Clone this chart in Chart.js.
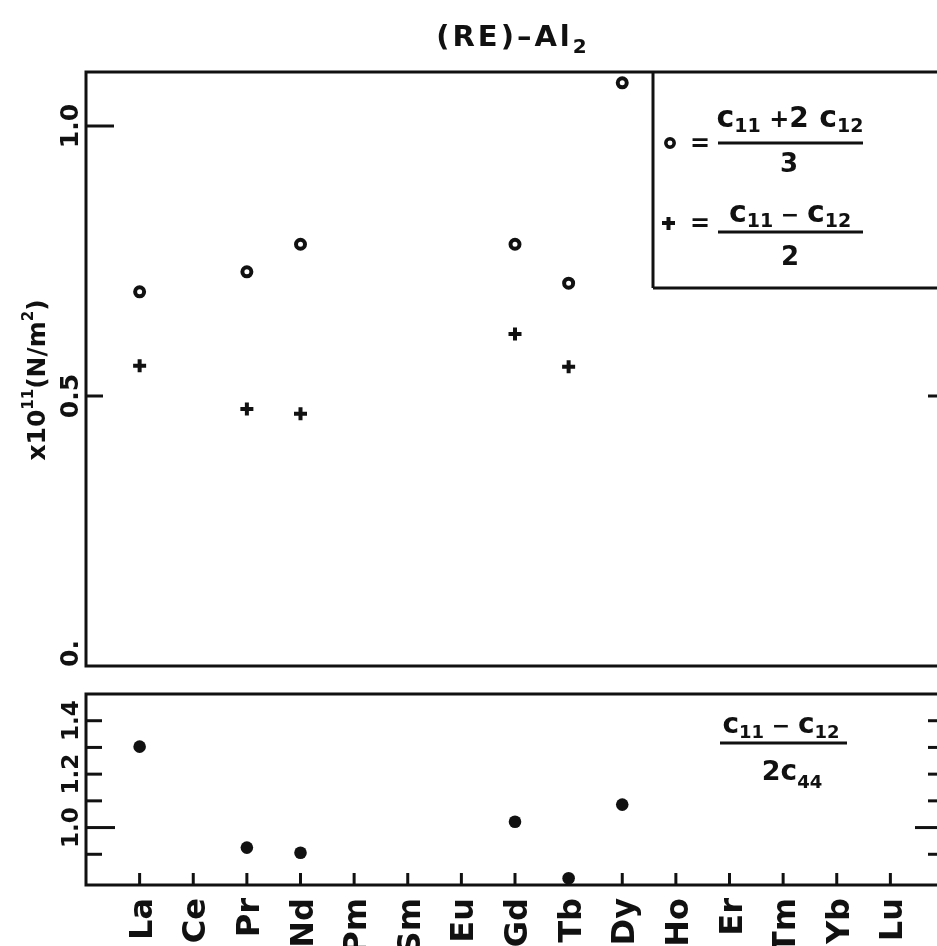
<!DOCTYPE html>
<html>
<head>
<meta charset="utf-8">
<script src="https://cdn.jsdelivr.net/npm/chart.js@4.4.0/dist/chart.umd.min.js"></script>
<style>
  html, body { margin: 0; padding: 0; background: #fff; overflow: hidden; }
  #wrap { position: relative; width: 937px; height: 946px; overflow: hidden; }
  canvas { position: absolute; left: 0; top: 0; }
</style>
</head>
<body>
<div id="wrap">
  <canvas id="mainChart" width="960" height="946"></canvas>
  <canvas id="ratioChart" width="960" height="946"></canvas>
</div>
<script>
// rare earth series, x axis runs from index -1 to 15
const elements = ['La', 'Ce', 'Pr', 'Nd', 'Pm', 'Sm', 'Eu', 'Gd', 'Tb', 'Dy', 'Ho', 'Er', 'Tm', 'Yb', 'Lu'];

// (c11 + 2c12)/3, x10^11 N/m^2  (open circles)
const bulkValues = [0.693, null, 0.730, 0.781, null, null, null, 0.781, 0.709, 1.080, null, null, null, null, null];
// (c11 - c12)/2  (plus signs)
const shearValues = [0.556, null, 0.476, 0.467, null, null, null, 0.615, 0.554, null, null, null, null, null, null];
// (c11 - c12)/(2c44)  (filled dots, lower panel)
const ratioValues = [1.303, null, 0.925, 0.906, null, null, null, 1.022, 0.810, 1.086, null, null, null, null, null];

// tick marks and labels
const mainTicks = [0, 0.5, 1.0];
const mainTickLabels = ['0.', '0.5', '1.0'];
const ratioTicks = [0.9, 1.0, 1.1, 1.2, 1.3, 1.4];
const ratioLabelValues = [1.0, 1.2, 1.4];
const ratioTickLabels = ['1.0', '1.2', '1.4'];

const INK = '#111';
const FONT = '"DejaVu Sans", sans-serif';

function points(values) {
    return values.map((v, i) => ({x: i, y: v})).filter(p => p.y !== null);
}

// draw a run of text pieces [text, size, dy], dy shifts the baseline (for subscripts)
function drawRuns(ctx, runs, x, y, align, weight) {
    const w8 = weight || 'bold';
    let w = 0;
    runs.forEach(r => {
        ctx.font = w8 + ' ' + r[1] + 'px ' + FONT;
        w += ctx.measureText(r[0]).width;
    });
    let cx = align === 'center' ? x - w / 2 : (align === 'right' ? x - w : x);
    ctx.textAlign = 'left';
    runs.forEach(r => {
        ctx.font = w8 + ' ' + r[1] + 'px ' + FONT;
        ctx.fillText(r[0], cx, y + (r[2] || 0));
        cx += ctx.measureText(r[0]).width;
    });
}

function hLine(ctx, x1, x2, y) {
    ctx.beginPath();
    ctx.moveTo(x1, y);
    ctx.lineTo(x2, y);
    ctx.stroke();
}

function vLine(ctx, x, y1, y2) {
    ctx.beginPath();
    ctx.moveTo(x, y1);
    ctx.lineTo(x, y2);
    ctx.stroke();
}

// rotated (reading upward) label
function upText(ctx, runs, x, y, align, weight) {
    ctx.save();
    ctx.translate(x, y);
    ctx.rotate(-Math.PI / 2);
    drawRuns(ctx, runs, 0, 0, align, weight);
    ctx.restore();
}

const mainFrame = {
    id: 'mainFrame',
    beforeDatasetsDraw(chart) {
        const {ctx, chartArea: a, scales: {y}} = chart;
        ctx.save();
        ctx.strokeStyle = INK;
        ctx.fillStyle = INK;
        ctx.lineWidth = 3;
        ctx.strokeRect(a.left, a.top, a.right - a.left, a.bottom - a.top);

        // left ticks
        mainTicks.forEach((v, i) => {
            const py = y.getPixelForValue(v);
            if (v > 0) hLine(ctx, a.left, a.left + (v === 1.0 ? 28 : 17), py);
            const align = v === 0 ? 'left' : 'center';
            upText(ctx, [[mainTickLabels[i], 25]], 78, v === 0 ? py + 1 : py, align, '600');
        });
        // right tick at 0.5
        hLine(ctx, a.right - 16, a.right, y.getPixelForValue(0.5));

        // axis title
        upText(ctx, [['x10', 25], ['11', 15, -12], ['(N/m', 25], ['2', 15, -12], [')', 25]], 45, 380, 'center', '600');

        // title
        ctx.letterSpacing = '3px';
        drawRuns(ctx, [['(RE)–Al', 29], ['2', 20, 7]], 513, 46, 'center');
        ctx.letterSpacing = '0px';

        // key box
        const bx = 653, by = 288;
        ctx.lineWidth = 3;
        vLine(ctx, bx, a.top, by);
        hLine(ctx, bx, a.right, by);

        ctx.lineWidth = 3.5;
        ctx.beginPath();
        ctx.arc(670, 143, 4.2, 0, Math.PI * 2);
        ctx.stroke();
        drawRuns(ctx, [['=', 24]], 700, 151, 'center');
        ctx.lineWidth = 3;
        hLine(ctx, 718, 863, 143);
        drawRuns(ctx, [['c', 30], ['11', 19, 5], [' +', 24], ['2', 28], [' c', 30], ['12', 19, 5]], 790, 127, 'center');
        drawRuns(ctx, [['3', 26]], 789, 172, 'center');

        ctx.lineWidth = 4;
        hLine(ctx, 662, 675, 223);
        vLine(ctx, 668.5, 217, 230);
        ctx.lineWidth = 3;
        drawRuns(ctx, [['=', 24]], 700, 231, 'center');
        hLine(ctx, 718, 863, 232);
        drawRuns(ctx, [['c', 30], ['11', 19, 5], [' − ', 22], ['c', 30], ['12', 19, 5]], 790, 222, 'center');
        drawRuns(ctx, [['2', 26]], 790, 265, 'center');
        ctx.restore();
    }
};

const ratioFrame = {
    id: 'ratioFrame',
    beforeDatasetsDraw(chart) {
        const {ctx, chartArea: a, scales: {x, y}} = chart;
        ctx.save();
        ctx.strokeStyle = INK;
        ctx.fillStyle = INK;
        ctx.lineWidth = 3;
        ctx.strokeRect(a.left, a.top, a.right - a.left, a.bottom - a.top);

        // y ticks on both sides, long one at 1.0
        ctx.lineWidth = 3;
        ratioTicks.forEach(v => {
            const py = y.getPixelForValue(v);
            const len = Math.abs(v - 1.0) < 1e-9 ? 29 : 16;
            hLine(ctx, a.left, a.left + len, py);
            hLine(ctx, a.right - len, a.right, py);
        });
        ratioLabelValues.forEach((v, i) => {
            upText(ctx, [[ratioTickLabels[i], 23]], 78, y.getPixelForValue(v), 'center', '600');
        });

        // x ticks pointing up from the bottom axis, labels below
        elements.forEach((el, i) => {
            const px = x.getPixelForValue(i);
            vLine(ctx, px, a.bottom, a.bottom - 12);
            upText(ctx, [[el, 32]], px + 12, a.bottom + 13, 'right');
        });

        // formula note
        ctx.lineWidth = 3;
        hLine(ctx, 720, 847, 743);
        drawRuns(ctx, [['c', 28], ['11', 18, 5], [' − ', 22], ['c', 28], ['12', 18, 5]], 781, 733, 'center');
        drawRuns(ctx, [['2', 27], ['c', 28], ['44', 18, 8]], 792, 780, 'center');
        ctx.restore();
    }
};

function baseOptions(padding, yMin, yMax) {
    return {
        responsive: false,
        animation: false,
        layout: {padding: padding},
        plugins: {
            legend: {display: false},
            tooltip: {enabled: false}
        },
        scales: {
            x: {type: 'linear', min: -1, max: 15, display: false},
            y: {type: 'linear', min: yMin, max: yMax, display: false}
        }
    };
}

new Chart(document.getElementById('mainChart').getContext('2d'), {
    type: 'scatter',
    data: {
        datasets: [{
            label: '(c11+2c12)/3',
            data: points(bulkValues),
            pointStyle: 'circle',
            pointRadius: 4.5,
            borderWidth: 4,
            borderColor: INK,
            backgroundColor: '#fff',
            clip: false
        }, {
            label: '(c11-c12)/2',
            data: points(shearValues),
            pointStyle: 'cross',
            pointRadius: 6.5,
            borderWidth: 4,
            borderColor: INK,
            clip: false
        }]
    },
    options: baseOptions({left: 86, top: 72, right: 16, bottom: 280}, 0, 1.1),
    plugins: [mainFrame]
});

new Chart(document.getElementById('ratioChart').getContext('2d'), {
    type: 'scatter',
    data: {
        datasets: [{
            label: '(c11-c12)/2c44',
            data: points(ratioValues),
            pointStyle: 'circle',
            pointRadius: 6.3,
            borderWidth: 0,
            backgroundColor: INK,
            clip: false
        }]
    },
    options: baseOptions({left: 86, top: 694, right: 16, bottom: 61}, 0.785, 1.5),
    plugins: [ratioFrame]
});
</script>
</body>
</html>
